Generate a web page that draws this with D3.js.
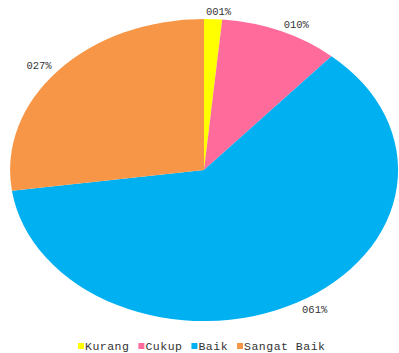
<!DOCTYPE html>
<html>
<head>
<meta charset="utf-8">
<script src="https://cdn.jsdelivr.net/npm/d3@7"></script>
<style>
  body { margin: 0; background: #fff; }
  text { font-family: "Liberation Mono", "DejaVu Sans Mono", monospace; fill: #333; }
</style>
</head>
<body>
<script>
// chart size
var width = 399;
var height = 353;

// data
var categories = ['Kurang', 'Cukup', 'Baik', 'Sangat Baik'];
var values = [1.5, 9.9, 61.4, 27.2];
var labels = ['001%', '010%', '061%', '027%'];
var colors = ['#ffff00', '#ff6b9a', '#00b0f0', '#f79646'];

// ellipse geometry of the (squashed) pie
var cx = 204, cy = 170, rx = 194, ry = 151;

var svg = d3.select('body').append('svg')
  .attr('width', width)
  .attr('height', height);

var pie = d3.pie().sort(null).value(function(d) { return d; });
var arcs = pie(values);

// unit arc, stretched into the ellipse
var arc = d3.arc().innerRadius(0).outerRadius(1);

var g = svg.append('g')
  .attr('transform', 'translate(' + cx + ',' + cy + ') scale(' + rx + ',' + ry + ')');

g.selectAll('path')
  .data(arcs)
  .enter().append('path')
  .attr('d', arc)
  .attr('fill', function(d, i) { return colors[i]; });

// data labels just outside the ellipse
svg.selectAll('text.lbl')
  .data(arcs)
  .enter().append('text')
  .attr('class', 'lbl')
  .attr('x', function(d) {
    var a = (d.startAngle + d.endAngle) / 2;
    return cx + Math.sin(a) * (rx + 30) + 4;
  })
  .attr('y', function(d) {
    var a = (d.startAngle + d.endAngle) / 2;
    return cy - Math.cos(a) * (ry + 8);
  })
  .attr('dy', '0.35em')
  .attr('text-anchor', 'middle')
  .style('font-size', '10.5px')
  .text(function(d, i) { return labels[i]; });

// legend along the bottom
var legend = svg.append('g');
var lx = 78;
categories.forEach(function(c, i) {
  legend.append('rect')
    .attr('x', lx)
    .attr('y', 343)
    .attr('width', 6)
    .attr('height', 6)
    .attr('fill', colors[i]);
  var t = legend.append('text')
    .attr('x', lx + 7)
    .attr('y', 350)
    .style('font-size', '11.5px')
    .style('letter-spacing', '0.5px')
    .text(c);
  lx += 7 + t.node().getComputedTextLength() + 9;
});
</script>
</body>
</html>
